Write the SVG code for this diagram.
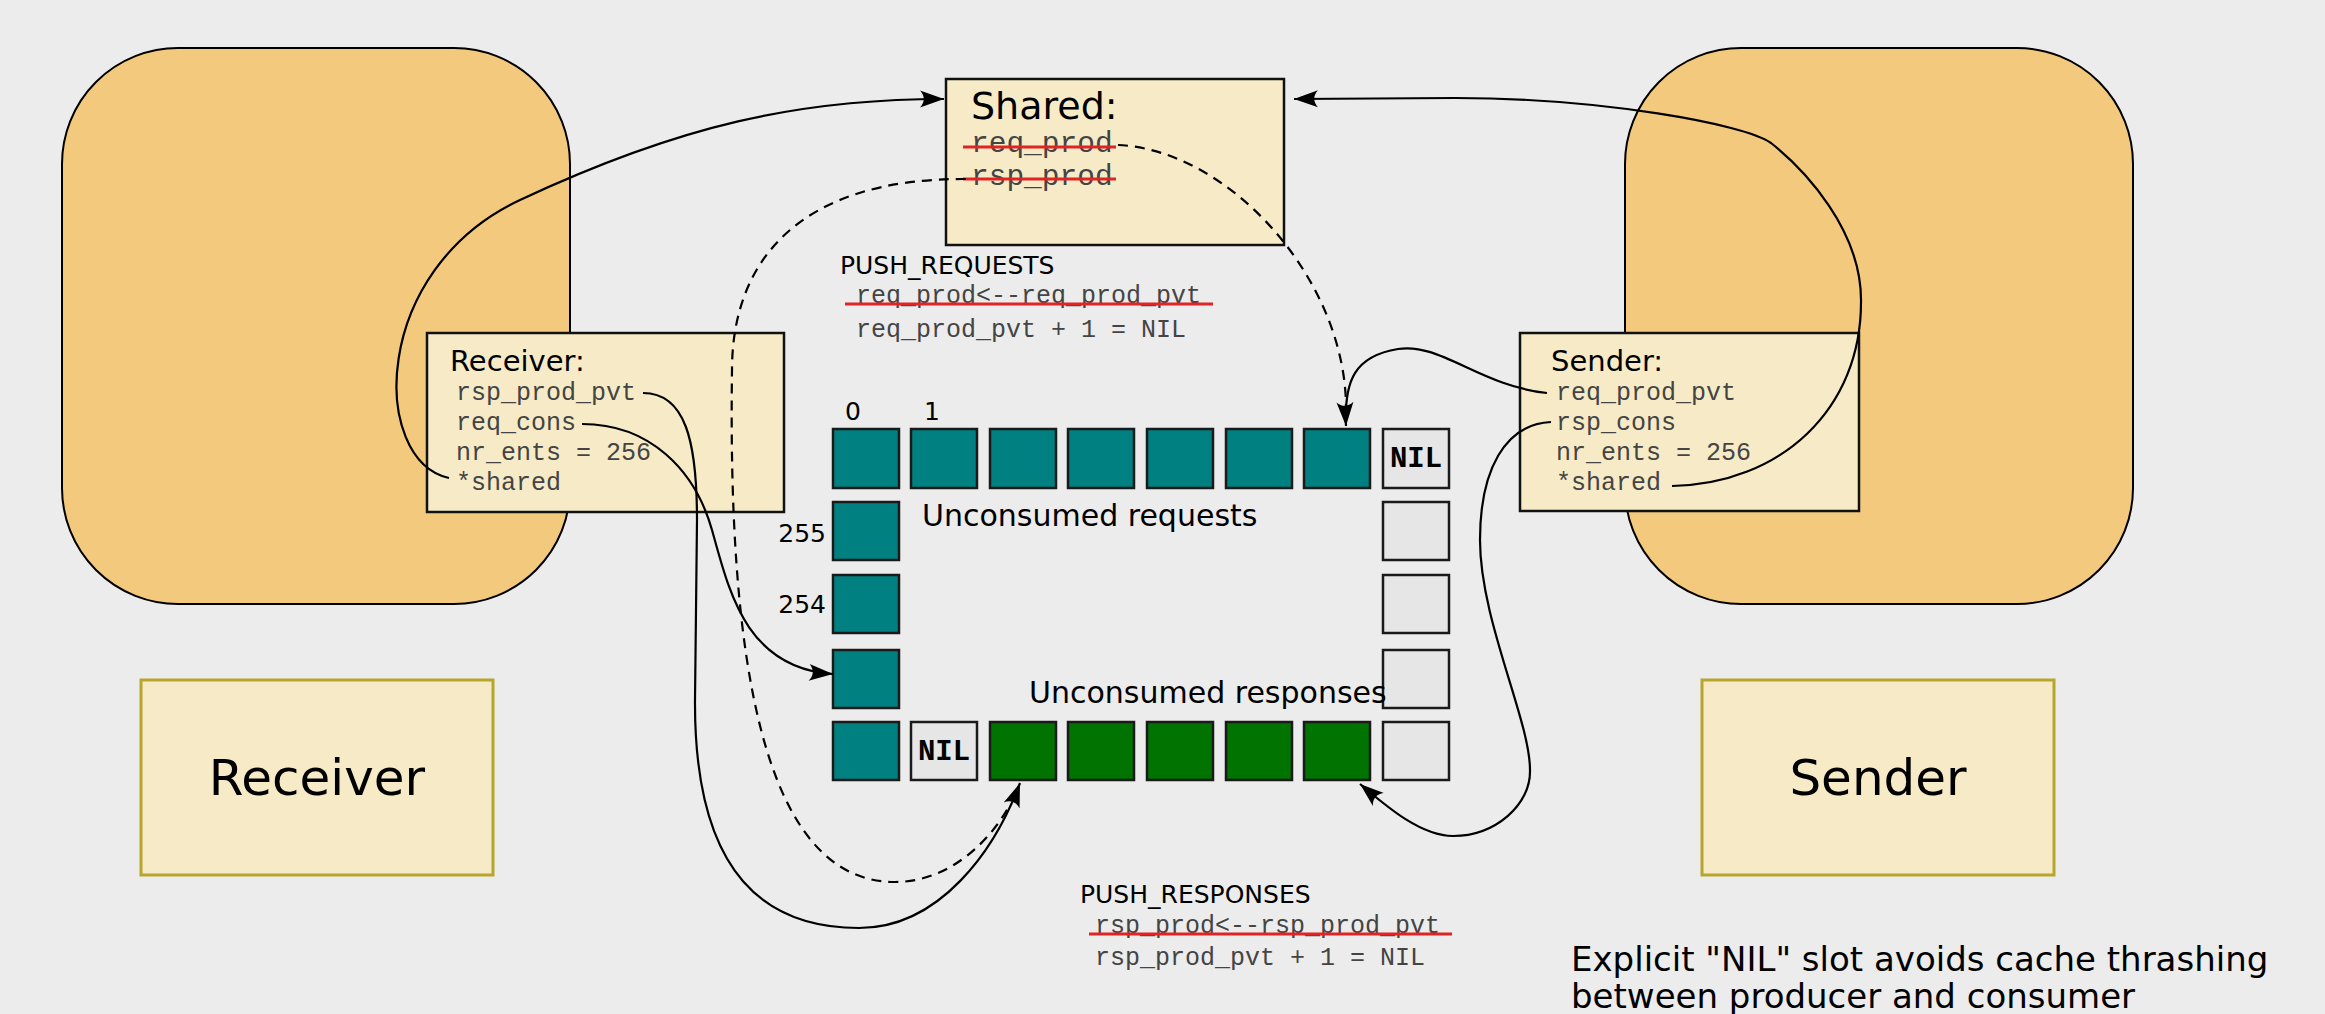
<svg xmlns="http://www.w3.org/2000/svg" width="2325" height="1014" viewBox="0 0 2325 1014">
<style>
.bg{fill:#ececec}
.proc{fill:#f3c97d;stroke:#000;stroke-width:2}
.box{fill:#f6ebc6;stroke:#111;stroke-width:2.5}
.lbl{fill:#f6ebc6;stroke:#b8a52c;stroke-width:3}
.req{fill:#008080;stroke:#1a1a1a;stroke-width:2.5}
.rsp{fill:#007300;stroke:#1a1a1a;stroke-width:2.5}
.free{fill:#e6e6e6;stroke:#1a1a1a;stroke-width:2.5}
.sans{font-family:"DejaVu Sans",sans-serif;fill:#000}
.mono{font-family:"Liberation Mono","Courier New",monospace;fill:#444}
.nil{font-family:"Liberation Mono","Courier New",monospace;font-weight:bold;font-size:29px;fill:#000;text-anchor:middle}
.strike{stroke:#e02424;stroke-width:3;fill:none}
.conn{fill:none;stroke:#000;stroke-width:2.2}
.dash{stroke-dasharray:10 7}
</style>
<defs>
<marker id="arr" markerUnits="userSpaceOnUse" markerWidth="26" markerHeight="20" viewBox="0 0 26 20" refX="24" refY="10" orient="auto">
<path d="M24 10 L0 1.5 C5 7 5 13 0 18.5 Z" fill="#000"/>
</marker>
</defs>
<rect class="bg" x="0" y="0" width="2325" height="1014"/>

<g id="receiver-process"><rect class="proc" x="62" y="48" width="508" height="556" rx="116" ry="116"/></g>
<g id="sender-process"><rect class="proc" x="1625" y="48" width="508" height="556" rx="116" ry="116"/></g>

<g id="receiver-label"><rect class="lbl" x="141" y="680" width="352" height="195"/><text class="sans" x="317" y="795" font-size="50" text-anchor="middle">Receiver</text></g>
<g id="sender-label"><rect class="lbl" x="1702" y="680" width="352" height="195"/><text class="sans" x="1878" y="795" font-size="50" text-anchor="middle">Sender</text></g>

<g id="receiver-state">
<rect class="box" x="427" y="333" width="357" height="179"/>
<text class="sans" x="450" y="371" font-size="29">Receiver:</text>
<text class="mono" font-size="25"><tspan x="456" y="400">rsp_prod_pvt</tspan><tspan x="456" y="430">req_cons</tspan><tspan x="456" y="460">nr_ents = 256</tspan><tspan x="456" y="490">*shared</tspan></text>
</g>

<g id="sender-state">
<rect class="box" x="1520" y="333" width="339" height="178"/>
<text class="sans" x="1551" y="371" font-size="29">Sender:</text>
<text class="mono" font-size="25"><tspan x="1556" y="400">req_prod_pvt</tspan><tspan x="1556" y="430">rsp_cons</tspan><tspan x="1556" y="460">nr_ents = 256</tspan><tspan x="1556" y="490">*shared</tspan></text>
</g>

<g id="shared">
<rect class="box" x="946" y="79" width="338" height="166"/>
<text class="sans" x="971" y="119" font-size="38">Shared:</text>
<text class="mono" font-size="29.5"><tspan x="971" y="152">req_prod</tspan><tspan x="971" y="185">rsp_prod</tspan></text>
<line class="strike" x1="963" y1="147" x2="1116" y2="147"/>
<line class="strike" x1="963" y1="179" x2="1116" y2="179"/>
</g>

<g id="push-requests">
<text class="sans" x="840" y="274" font-size="25">PUSH_REQUESTS</text>
<text class="mono" font-size="25"><tspan x="856" y="303">req_prod&lt;--req_prod_pvt</tspan><tspan x="856" y="337">req_prod_pvt + 1 = NIL</tspan></text>
<line class="strike" x1="845" y1="304" x2="1213" y2="304"/>
</g>

<g id="push-responses">
<text class="sans" x="1080" y="903" font-size="25">PUSH_RESPONSES</text>
<text class="mono" font-size="25"><tspan x="1095" y="933">rsp_prod&lt;--rsp_prod_pvt</tspan><tspan x="1095" y="965">rsp_prod_pvt + 1 = NIL</tspan></text>
<line class="strike" x1="1089" y1="934" x2="1452" y2="934"/>
</g>

<g id="ring">
<rect class="req" x="833" y="429" width="66" height="59"/>
<rect class="req" x="911" y="429" width="66" height="59"/>
<rect class="req" x="990" y="429" width="66" height="59"/>
<rect class="req" x="1068" y="429" width="66" height="59"/>
<rect class="req" x="1147" y="429" width="66" height="59"/>
<rect class="req" x="1226" y="429" width="66" height="59"/>
<rect class="req" x="1304" y="429" width="66" height="59"/>
<rect class="free" x="1383" y="429" width="66" height="59"/>
<text class="nil" x="1416" y="467">NIL</text>
<rect class="req" x="833" y="502" width="66" height="58"/>
<rect class="free" x="1383" y="502" width="66" height="58"/>
<rect class="req" x="833" y="575" width="66" height="58"/>
<rect class="free" x="1383" y="575" width="66" height="58"/>
<rect class="req" x="833" y="650" width="66" height="58"/>
<rect class="free" x="1383" y="650" width="66" height="58"/>
<rect class="req" x="833" y="722" width="66" height="58"/>
<rect class="free" x="911" y="722" width="66" height="58"/>
<text class="nil" x="944" y="760">NIL</text>
<rect class="rsp" x="990" y="722" width="66" height="58"/>
<rect class="rsp" x="1068" y="722" width="66" height="58"/>
<rect class="rsp" x="1147" y="722" width="66" height="58"/>
<rect class="rsp" x="1226" y="722" width="66" height="58"/>
<rect class="rsp" x="1304" y="722" width="66" height="58"/>
<rect class="free" x="1383" y="722" width="66" height="58"/>
<text class="sans" x="853" y="420" font-size="25" text-anchor="middle">0</text>
<text class="sans" x="932" y="420" font-size="25" text-anchor="middle">1</text>
<text class="sans" x="826" y="542" font-size="25" text-anchor="end">255</text>
<text class="sans" x="826" y="613" font-size="25" text-anchor="end">254</text>
<text class="sans" x="922" y="526" font-size="30">Unconsumed requests</text>
<text class="sans" x="1029" y="703" font-size="30">Unconsumed responses</text>
</g>

<g id="note"><text class="sans" font-size="34"><tspan x="1571" y="971">Explicit "NIL" slot avoids cache thrashing</tspan><tspan x="1571" y="1008">between producer and consumer</tspan></text></g>

<g id="connectors">
<path class="conn" marker-end="url(#arr)" d="M449 478 C370 460 370 270 520 200 C680 125 800 99 944 99"/>
<path class="conn" marker-end="url(#arr)" d="M1672 486 C1780 484 1862 410 1861 300 C1861 230 1805 170 1771 143 C1745 124 1600 98 1455 98 L1294 99"/>
<path class="conn" marker-end="url(#arr)" d="M1547 393 C1480 386 1440 342 1398 349 C1355 356 1344 380 1346 426"/>
<path class="conn dash" d="M1118 145 C1230 150 1346 280 1346 408"/>
<path class="conn dash" d="M966 179 C800 178 732 260 732 370 C728 650 760 882 895 882 C950 882 990 840 1008 808"/>
<path class="conn" marker-end="url(#arr)" d="M643 393 C685 393 697 440 697 520 L695 700 C694 880 770 928 859 928 C940 928 995 850 1020 783"/>
<path class="conn" marker-end="url(#arr)" d="M582 424 C650 424 695 470 712 530 C729 590 745 668 833 674"/>
<path class="conn" marker-end="url(#arr)" d="M1551 422 C1505 424 1480 470 1480 540 C1480 620 1530 720 1530 770 C1531 805 1495 836 1453 836 C1420 836 1385 805 1360 784"/>
</g>
</svg>
